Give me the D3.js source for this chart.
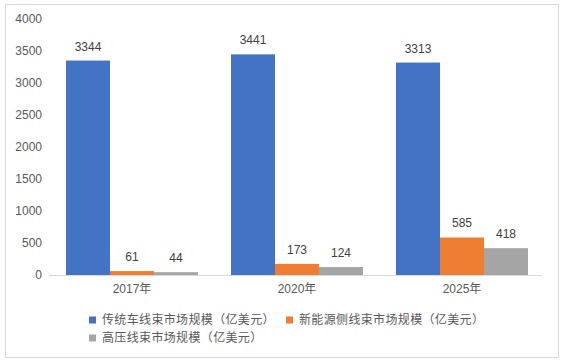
<!DOCTYPE html>
<html><head><meta charset="utf-8">
<script src="https://cdn.jsdelivr.net/npm/d3@7"></script>
<style>body{margin:0;background:#fff;}svg{display:block;font-family:"Liberation Sans","Noto Sans CJK SC",sans-serif;}</style>
</head><body><svg id="c" width="565" height="364"></svg>
<script>
const categories = ["2017年","2020年","2025年"];
const seriesNames = ["传统车线束市场规模（亿美元）","新能源侧线束市场规模（亿美元）","高压线束市场规模（亿美元）"];
const traditional = [3344, 3441, 3313];
const newEnergy = [61, 173, 585];
const highVoltage = [44, 124, 418];
const yTicks = [0,500,1000,1500,2000,2500,3000,3500,4000];
const colors = ["#4472c4","#ed7d31","#a5a5a5"];
const series = [traditional, newEnergy, highVoltage];

const svg = d3.select("#c");
svg.append("rect").attr("x",5.5).attr("y",4.5).attr("width",553).attr("height",353)
  .attr("fill","#fff").attr("stroke","#d9d9d9");

const x0 = d3.scaleBand().domain(categories).range([49.5,544.5]).paddingInner(0.2).paddingOuter(0.1);
const x1 = d3.scaleBand().domain([0,1,2]).range([0,x0.bandwidth()]);
const y = d3.scaleLinear().domain([0,4000]).range([275,18.5]);

// y tick labels
svg.append("g").selectAll("text").data(yTicks).join("text")
  .attr("x",42).attr("y",d=>y(d)).attr("dy","0.35em").attr("text-anchor","end")
  .attr("font-size",12).attr("fill","#595959").text(d=>d);

// bars
const g = svg.append("g");
categories.forEach((c,i)=>{
  series.forEach((s,j)=>{
    g.append("rect").attr("x",x0(c)+x1(j)).attr("y",y(s[i]))
      .attr("width",x1.bandwidth()).attr("height",y(0)-y(s[i])).attr("fill",colors[j]);
    g.append("text").attr("x",x0(c)+x1(j)+x1.bandwidth()/2).attr("y",y(s[i])-10)
      .attr("text-anchor","middle").attr("font-size",12).attr("fill","#404040").text(s[i]);
  });
});

// x axis line
svg.append("line").attr("x1",49).attr("x2",542).attr("y1",275.5).attr("y2",275.5)
  .attr("stroke","#d9d9d9").attr("stroke-width",1);
svg.append("g").selectAll("text").data(categories).join("text")
  .attr("x",d=>x0(d)+x0.bandwidth()/2).attr("y",289).attr("dy","0.35em")
  .attr("text-anchor","middle").attr("font-size",12).attr("fill","#595959").text(d=>d);

// legend
const legendPos = [[89,320],[286,320],[89,338]];
seriesNames.forEach((n,j)=>{
  const [lx,ly] = legendPos[j];
  svg.append("rect").attr("x",lx).attr("y",ly-3.5).attr("width",7).attr("height",7).attr("fill",colors[j]);
  svg.append("text").attr("x",lx+13).attr("y",ly).attr("dy","0.35em").attr("font-size",12)
    .attr("letter-spacing",0.35).attr("fill","#595959").text(n);
});
</script></body></html>
